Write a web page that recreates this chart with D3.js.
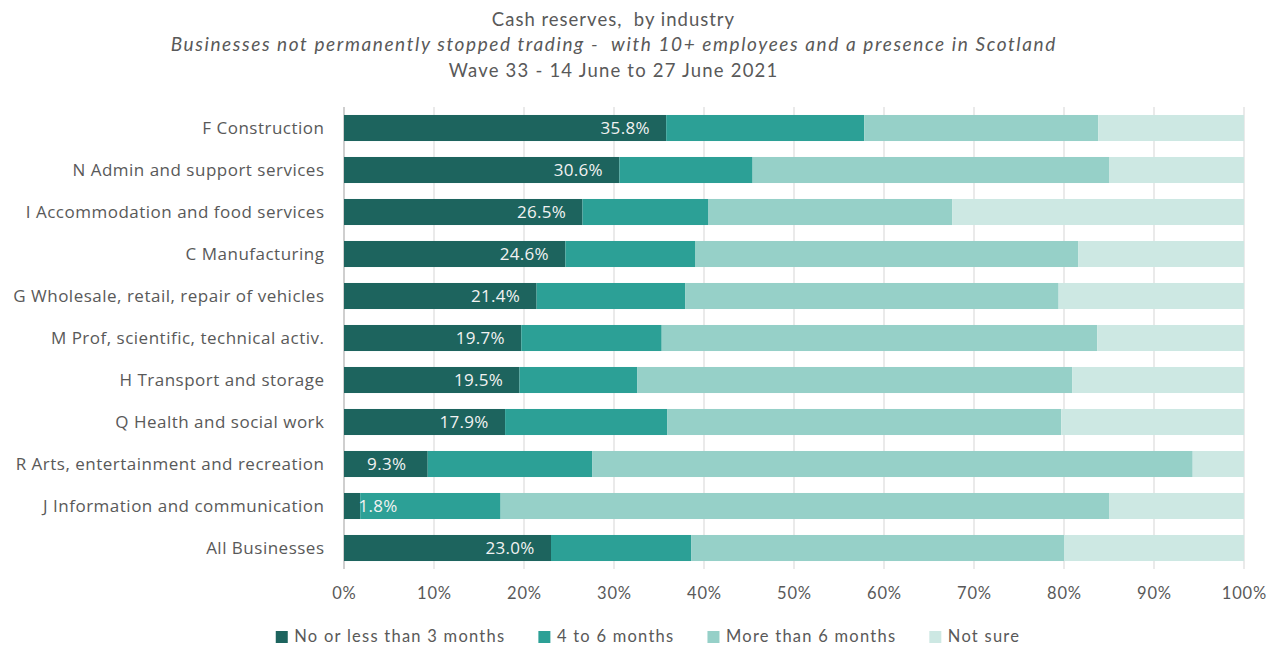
<!DOCTYPE html>
<html>
<head>
<meta charset="utf-8">
<script src="https://cdn.jsdelivr.net/npm/d3@7"></script>
<style>
  body { margin: 0; background: #fff; }
  svg text { white-space: pre; }
</style>
</head>
<body>
<svg id="chart" width="1279" height="646"></svg>
<script>
// Chart data
var categories = [
  "F Construction",
  "N Admin and support services",
  "I Accommodation and food services",
  "C Manufacturing",
  "G Wholesale, retail, repair of vehicles",
  "M Prof, scientific, technical activ.",
  "H Transport and storage",
  "Q Health and social work",
  "R Arts, entertainment and recreation",
  "J Information and communication",
  "All Businesses"
];
var seriesNames = ["No or less than 3 months", "4 to 6 months", "More than 6 months", "Not sure"];
var lessThan3   = [35.8, 30.6, 26.5, 24.6, 21.4, 19.7, 19.5, 17.9, 9.3, 1.8, 23.0];
var fourToSix   = [22.0, 14.8, 14.0, 14.4, 16.5, 15.6, 13.1, 18.0, 18.3, 15.6, 15.6];
var moreThan6   = [26.0, 39.6, 27.1, 42.6, 41.5, 48.4, 48.3, 43.8, 66.7, 67.6, 41.4];
var notSure     = [16.2, 15.0, 32.4, 18.4, 20.6, 16.3, 19.1, 20.3, 5.7, 15.0, 20.0];
var xTicks      = [0, 10, 20, 30, 40, 50, 60, 70, 80, 90, 100];
var titleLines  = [
  "Cash reserves,  by industry",
  "Businesses not permanently stopped trading -  with 10+ employees and a presence in Scotland",
  "Wave 33 - 14 June to 27 June 2021"
];

var colors = ["#1d645e", "#2ca096", "#96d0c8", "#cde8e3"];
var grey   = "#595959";
var calibri = "Lato, 'Liberation Sans', sans-serif";
var segoe   = "'Open Sans', 'Noto Sans', sans-serif";

var svg = d3.select("#chart");
var margin = { left: 344, right: 35, top: 107, bottom: 77 };
var width  = 1279;
var height = 646;

// Build rows for stacking
var rows = categories.map(function(c, i) {
  return { name: c, s0: lessThan3[i], s1: fourToSix[i], s2: moreThan6[i], s3: notSure[i] };
});
var stack = d3.stack().keys(["s0", "s1", "s2", "s3"])(rows);

var x = d3.scaleLinear().domain([0, 100]).range([margin.left, width - margin.right]);
var y = d3.scaleBand().domain(categories)
          .range([margin.top, height - margin.bottom])
          .paddingInner(0.38).paddingOuter(0.19);

// Titles (size, spacing and baseline per line)
var titleStyle = [
  { size: 18.5, spacing: 1.0, y: 25.5 },
  { size: 19,   spacing: 1.6, y: 51 },
  { size: 18.5, spacing: 1.2, y: 76.5 }
];
svg.selectAll("text.title")
   .data(titleLines).enter()
   .append("text")
   .attr("class", "title")
   .attr("x", function(d, i) { return 613 + titleStyle[i].spacing / 2; })
   .attr("y", function(d, i) { return titleStyle[i].y; })
   .attr("text-anchor", "middle")
   .attr("font-family", calibri)
   .attr("font-size", function(d, i) { return titleStyle[i].size; })
   .attr("letter-spacing", function(d, i) { return titleStyle[i].spacing; })
   .attr("font-style", function(d, i) { return i == 1 ? "italic" : "normal"; })
   .attr("fill", grey)
   .text(function(d) { return d; });

// Gridlines
svg.append("g")
   .selectAll("line")
   .data(xTicks).enter()
   .append("line")
   .attr("x1", function(d) { return x(d); })
   .attr("x2", function(d) { return x(d); })
   .attr("y1", margin.top)
   .attr("y2", height - margin.bottom)
   .attr("stroke", function(d) { return d == 0 ? "#bfbfbf" : "#e3e3e3"; })
   .attr("stroke-width", 1.5);

// Bars
svg.append("g")
   .selectAll("g")
   .data(stack).enter()
   .append("g")
   .attr("fill", function(d, i) { return colors[i]; })
   .selectAll("rect")
   .data(function(d) { return d; }).enter()
   .append("rect")
   .attr("x", function(d) { return x(d[0]); })
   .attr("y", function(d) { return y(d.data.name); })
   .attr("width", function(d) { return x(d[1]) - x(d[0]); })
   .attr("height", y.bandwidth());

// Value labels on the first series
svg.append("g")
   .selectAll("text")
   .data(rows).enter()
   .append("text")
   .attr("x", function(d) { return Math.max(x(d.s0) - 41, x(0) + 34); })
   .attr("y", function(d) { return y(d.name) + y.bandwidth() / 2; })
   .attr("dy", "0.36em")
   .attr("text-anchor", "middle")
   .attr("font-family", segoe)
   .attr("font-size", 17)
   .attr("letter-spacing", 0.3)
   .attr("fill", "#f2f2f2")
   .text(function(d) { return d.s0.toFixed(1) + "%"; });

// Category axis labels
svg.append("g")
   .selectAll("text")
   .data(categories).enter()
   .append("text")
   .attr("x", margin.left - 19.5)
   .attr("y", function(d) { return y(d) + y.bandwidth() / 2; })
   .attr("dy", "0.36em")
   .attr("text-anchor", "end")
   .attr("font-family", segoe)
   .attr("font-size", 17)
   .attr("letter-spacing", 0.5)
   .attr("fill", grey)
   .text(function(d) { return d; });

// X axis tick labels
svg.append("g")
   .selectAll("text")
   .data(xTicks).enter()
   .append("text")
   .attr("x", function(d) { return x(d) + 0.4; })
   .attr("y", 599)
   .attr("text-anchor", "middle")
   .attr("font-family", calibri)
   .attr("font-size", 16.5)
   .attr("letter-spacing", 0.8)
   .attr("fill", grey)
   .text(function(d) { return d + "%"; });

// Legend
var legend = svg.append("g");
var item = legend.selectAll("g")
   .data(seriesNames).enter()
   .append("g");
item.append("rect")
    .attr("width", 12).attr("height", 12)
    .attr("y", -11)
    .attr("fill", function(d, i) { return colors[i]; });
item.append("text")
    .attr("x", 18.5)
    .attr("font-family", calibri)
    .attr("font-size", 16.5)
    .attr("letter-spacing", 1.25)
    .attr("fill", grey)
    .text(function(d) { return d; });

var offset = 0;
item.each(function() {
  var g = d3.select(this);
  g.attr("transform", "translate(" + offset + ",0)");
  offset += 18.5 + g.select("text").node().getComputedTextLength() + 33;
});
var legendWidth = offset - 33;
legend.attr("transform", "translate(" + (648 - legendWidth / 2) + ",642)");
</script>
</body>
</html>
